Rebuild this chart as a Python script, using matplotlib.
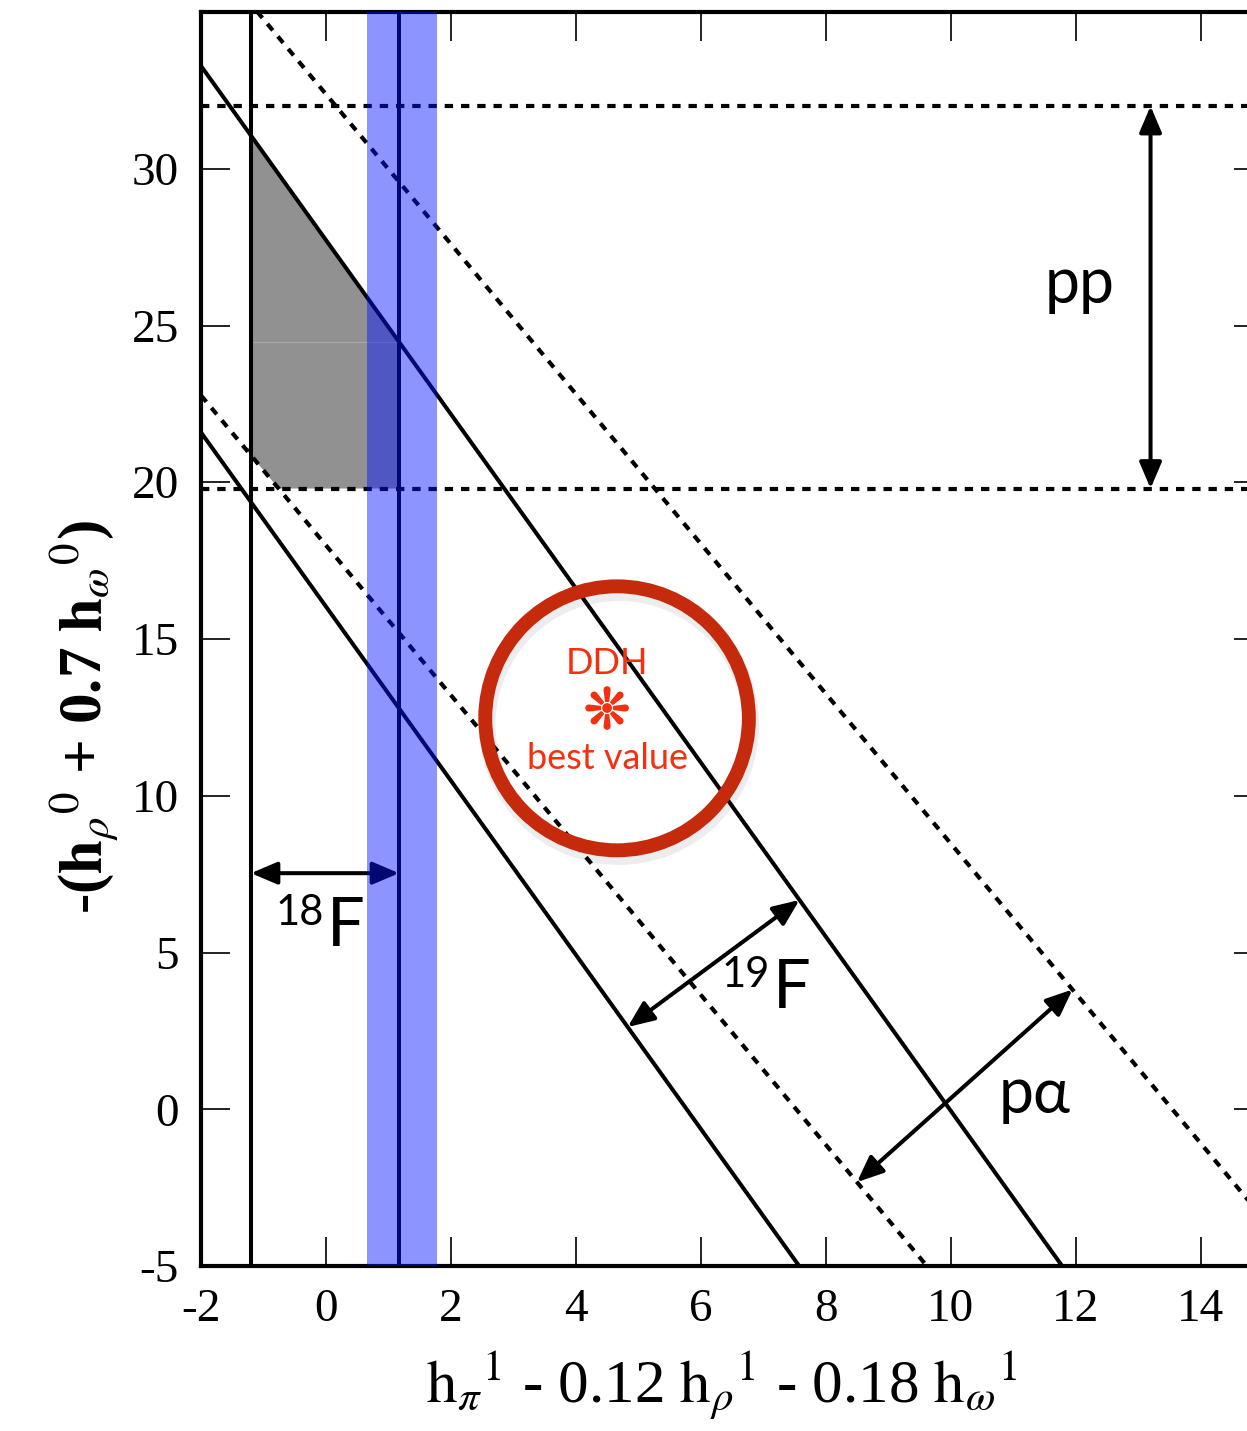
import matplotlib
matplotlib.use("Agg")
import matplotlib.pyplot as plt
from matplotlib.patches import Polygon, Ellipse, FancyArrowPatch
import matplotlib.patheffects as pe
import numpy as np

plt.rcParams["font.family"] = ["Liberation Serif", "DejaVu Serif"]
plt.rcParams["mathtext.fontset"] = "stix"
plt.rcParams["axes.unicode_minus"] = False

# constraint values
f18_limit = -1.2                 # 18F lower bound on the isovector combination
anapole_center = 1.17            # central value of the vertical band
anapole_band = [0.66, 1.77]
pp_bounds = [19.8, 32.0]         # pp band on the isoscalar combination
f19_slope = -2.777
f19_y_at_xmin = [21.59, 33.28]   # 19F band edges, value at x = -2
pa_slope = -2.39
pa_y_at_xmin = [22.77, 37.16]    # p-alpha band edges, value at x = -2
ddh_best = (4.66, 12.47)

xmin, xmax = -2, 15
ymin, ymax = -5, 35
xticks = np.arange(-2, 15, 2)
yticks = np.arange(-5, 31, 5)

label_font = ["Lato", "Open Sans", "DejaVu Sans"]
ink = "black"
red_ring = "#c62a0c"
red_text = "#f4300f"


def line_y(y0, slope, x):
    return y0 + slope * (np.asarray(x) - xmin)


def line_x(y0, slope, y):
    return xmin + (y - y0) / slope


fig = plt.figure(figsize=(12.47, 14.31), dpi=100)
ax = fig.add_axes([201 / 1247, 165 / 1431, 1062 / 1247, 1254 / 1431])
ax.set_xlim(xmin, xmax)
ax.set_ylim(ymin, ymax)

xs = np.array([xmin, xmax])
lw = 2.9
dash = (0, (2.0, 1.9))

# allowed region (grey)
fa_lo, fa_hi = f19_y_at_xmin
pa_lo, pa_hi = pa_y_at_xmin
x_notch = f18_limit - 0.1
region = [
    (f18_limit, line_y(fa_hi, f19_slope, f18_limit)),
    (anapole_center, line_y(fa_hi, f19_slope, anapole_center)),
    (anapole_center, pp_bounds[0]),
    (line_x(pa_lo, pa_slope, pp_bounds[0]), pp_bounds[0]),
    (x_notch, line_y(pa_lo, pa_slope, x_notch)),
    (f18_limit, line_y(pa_lo, pa_slope, x_notch)),
]
ax.add_patch(Polygon(region, closed=True, facecolor="#919191",
                     edgecolor="none", zorder=1))
seam_y = line_y(fa_hi, f19_slope, anapole_center)
ax.plot([f18_limit, anapole_center], [seam_y, seam_y], color="#a9a9a9",
        lw=0.8, zorder=1.1)

# 19F band (solid) and p-alpha band (dashed)
for y0 in f19_y_at_xmin:
    ax.plot(xs, line_y(y0, f19_slope, xs), color=ink, lw=lw, zorder=2)
for y0 in pa_y_at_xmin:
    ax.plot(xs, line_y(y0, pa_slope, xs), color=ink, lw=3.0, ls=dash, zorder=2)

# pp band
for yb in pp_bounds:
    ax.plot(xs, [yb, yb], color=ink, lw=3.0, ls=dash, zorder=2)

# 18F bound and band centre line
ax.axvline(f18_limit, color=ink, lw=lw, zorder=2)
ax.axvline(anapole_center, color=ink, lw=lw, zorder=2)

# arrows
arrow_kw = dict(arrowstyle="<|-|>,head_length=0.8,head_width=0.34",
                mutation_scale=20, color=ink, lw=lw, shrinkA=0, shrinkB=0,
                zorder=2.2)
y_pp_arrow = 13.2
ax.add_patch(FancyArrowPatch((y_pp_arrow, pp_bounds[0]),
                             (y_pp_arrow, pp_bounds[1]), **arrow_kw))
y18 = 7.53
ax.add_patch(FancyArrowPatch((f18_limit, y18), (anapole_center, y18),
                             **arrow_kw))
x19a, x19b = 4.83, 7.58
ax.add_patch(FancyArrowPatch((x19a, line_y(fa_lo, f19_slope, x19a)),
                             (x19b, line_y(fa_hi, f19_slope, x19b)),
                             **arrow_kw))
xpa, xpb = 8.5, 11.95
ax.add_patch(FancyArrowPatch((xpa, line_y(pa_lo, pa_slope, xpa)),
                             (xpb, line_y(pa_hi, pa_slope, xpb)),
                             **arrow_kw))

# translucent band drawn over everything it crosses
ax.axvspan(anapole_band[0], anapole_band[1],
           color=(0.0, 0.08, 1.0), alpha=0.45, lw=0, zorder=3)

# labels for the constraints
lab = dict(family=label_font, color=ink, zorder=4)
ax.text(12.06, 26.3, "pp", fontsize=45, ha="center", va="center", **lab)
ax.text(11.35, 0.45, "pα", fontsize=45, ha="center", va="center", **lab)
for xF, yF, iso in [(0.016, 5.2, "18"), (7.15, 3.22, "19")]:
    ax.text(xF, yF, "F", fontsize=48, ha="left", va="baseline", **lab)
    ax.annotate(iso, (xF, yF), xytext=(-2, 15), textcoords="offset points",
                fontsize=30, ha="right", va="baseline", **lab)

# DDH best value
ax.add_patch(Ellipse((ddh_best[0] + 0.03, ddh_best[1] - 0.2), 4.22, 8.42,
                     fill=False, edgecolor="black", alpha=0.07, lw=12,
                     zorder=4.5))
ax.add_patch(Ellipse(ddh_best, 4.22, 8.42, fill=False, edgecolor=red_ring,
                     lw=10, zorder=5))
ax.text(4.5, 14.22, "DDH", fontsize=26, ha="center", va="center",
        family=label_font, color=red_text, zorder=6)
ax.text(4.5, 12.63, "\u274a", fontsize=40, ha="center", va="center",
        family=["DejaVu Sans"], color=red_text, zorder=6,
        path_effects=[pe.withStroke(linewidth=1.2, foreground=red_text)])
ax.text(4.5, 11.2, "best value", fontsize=26, ha="center", va="center",
        family=label_font, color=red_text, zorder=6)

# axes styling
for side in ["left", "bottom", "top", "right"]:
    ax.spines[side].set_linewidth(3.0)
ax.set_xticks(xticks)
ax.set_yticks(yticks)
ax.tick_params(direction="in", length=21, width=1.4, top=True, right=True,
               labelsize=34, color="#222222")
ax.tick_params(axis="x", pad=16)
ax.tick_params(axis="y", pad=16)

ax.set_xlabel(r"$\mathrm{h}_{\pi}{}^{1}$ - 0.12 $\mathrm{h}_{\rho}{}^{1}$"
              r" - 0.18 $\mathrm{h}_{\omega}{}^{1}$", fontsize=44)
ax.xaxis.set_label_coords(0.49, -0.067)
ax.set_ylabel(r"-($\mathbf{h}_{\rho}{}^{0}$ + 0.7 $\mathbf{h}_{\omega}{}^{0}$)",
              fontsize=44, fontweight="bold")
ax.yaxis.set_label_coords(-0.075, 0.438)

fig.savefig("out.png", dpi=100)
